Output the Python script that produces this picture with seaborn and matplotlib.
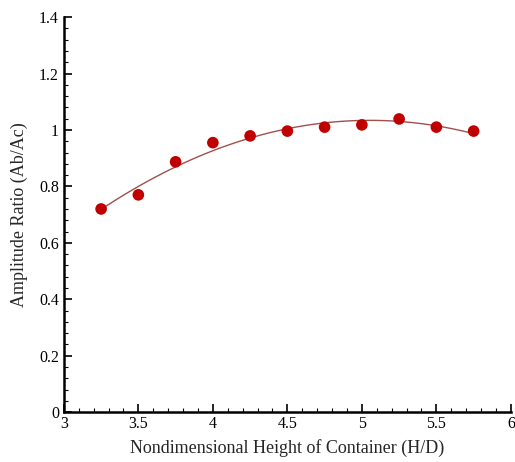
import matplotlib
matplotlib.use("Agg")
import matplotlib.pyplot as plt
import seaborn as sns
import numpy as np
import pandas as pd
from matplotlib.ticker import MultipleLocator, FuncFormatter

height_ratio = [3.25, 3.5, 3.75, 4.0, 4.25, 4.5, 4.75, 5.0, 5.25, 5.5, 5.75]
amplitude_ratio = [0.72, 0.77, 0.887, 0.955, 0.979, 0.996, 1.01, 1.018, 1.039, 1.01, 0.996]

df = pd.DataFrame({"hd": height_ratio, "ar": amplitude_ratio})

sns.set_style("ticks")
plt.rcParams['font.family'] = ['Liberation Serif', 'DejaVu Serif']

fig = plt.figure(figsize=(5.15, 4.62), dpi=100)
ax = fig.add_axes([0.124, 0.108, 0.868, 0.855])

sns.regplot(data=df, x="hd", y="ar", order=2, ci=None, scatter=False,
            line_kws=dict(color="#A0504C", lw=1.0), truncate=True, ax=ax)
sns.scatterplot(data=df, x="hd", y="ar", color="#C00000", s=70, edgecolor="none",
                ax=ax, zorder=3)

ax.set_xlim(3, 6)
ax.set_ylim(0, 1.4)
ax.xaxis.set_major_locator(MultipleLocator(0.5))
ax.xaxis.set_minor_locator(MultipleLocator(0.1))
ax.yaxis.set_major_locator(MultipleLocator(0.2))
ax.yaxis.set_minor_locator(MultipleLocator(0.04))
fmt = FuncFormatter(lambda v, p: f"{v:g}")
ax.xaxis.set_major_formatter(fmt)
ax.yaxis.set_major_formatter(fmt)
ax.tick_params(which="major", direction="in", length=6, width=1.2, labelsize=11.5, colors="black")
ax.tick_params(which="minor", direction="in", length=3, width=0.8, colors="black")
ax.tick_params(axis="x", pad=3)
for s in ["top", "right"]:
    ax.spines[s].set_visible(False)
for s in ["left", "bottom"]:
    ax.spines[s].set_linewidth(1.8)
    ax.spines[s].set_color("black")

ax.set_xlabel("Nondimensional Height of Container (H/D)", fontsize=13, labelpad=5)
ax.set_ylabel("Amplitude Ratio (Ab/Ac)", fontsize=13, labelpad=8)

fig.savefig("out.png", dpi=100)
